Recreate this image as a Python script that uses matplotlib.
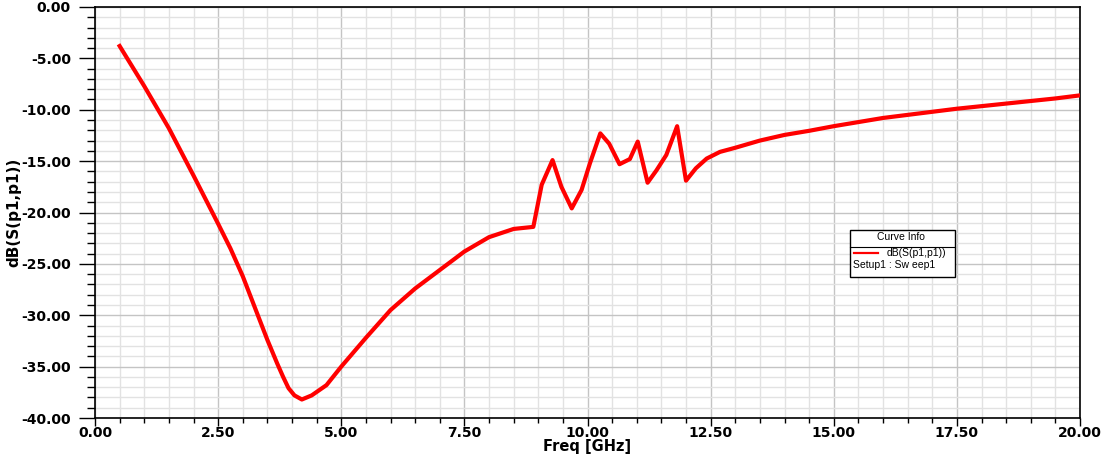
import numpy as np
import matplotlib.pyplot as plt
from matplotlib.ticker import MultipleLocator, FormatStrFormatter
from matplotlib.patches import Rectangle
from matplotlib.lines import Line2D

# S11 sweep
freq = [0.5, 1.0, 1.5, 2.0, 2.5, 2.75, 3.0, 3.25, 3.5, 3.7, 3.82, 3.93, 4.05,
        4.2, 4.4, 4.7, 5.0, 5.5, 6.0, 6.5, 7.0, 7.5, 8.0, 8.5, 8.9, 9.07,
        9.29, 9.47, 9.68, 9.88, 10.05, 10.26, 10.44, 10.65, 10.86, 11.02,
        11.22, 11.4, 11.6, 11.82, 12.0, 12.2, 12.42, 12.69, 13.0, 13.5, 14.0,
        14.5, 15.0, 16.0, 17.0, 17.5, 18.5, 19.5, 20.0]
s11 = [-3.8, -7.7, -11.8, -16.4, -21.1, -23.5, -26.2, -29.3, -32.4, -34.7,
       -36.0, -37.1, -37.8, -38.2, -37.8, -36.8, -35.0, -32.2, -29.5, -27.4,
       -25.6, -23.8, -22.4, -21.6, -21.4, -17.3, -14.9, -17.5, -19.6, -17.8,
       -15.2, -12.3, -13.3, -15.3, -14.8, -13.1, -17.1, -15.9, -14.4, -11.6,
       -16.9, -15.7, -14.75, -14.1, -13.7, -13.0, -12.45, -12.05, -11.6,
       -10.8, -10.2, -9.9, -9.4, -8.9, -8.6]
curve_name = 'dB(S(p1,p1))'
sweep_name = 'Setup1 : Sw eep1'

fig = plt.figure(figsize=(11.11, 4.54), dpi=100)
ax = fig.add_axes([95/1111, 1-418/454, 985/1111, 411/454])

ax.plot(freq, s11, color='#ff0000', lw=3.0, solid_joinstyle='round', zorder=3)

ax.set_xlim(0, 20)
ax.set_ylim(-40, 0)
ax.xaxis.set_major_locator(MultipleLocator(2.5))
ax.xaxis.set_minor_locator(MultipleLocator(0.5))
ax.yaxis.set_major_locator(MultipleLocator(5))
ax.yaxis.set_minor_locator(MultipleLocator(1))
ax.xaxis.set_major_formatter(FormatStrFormatter('%.2f'))
ax.yaxis.set_major_formatter(FormatStrFormatter('%.2f'))

ax.grid(which='major', color='#c4c4c4', lw=1.0, zorder=1)
ax.grid(which='minor', color='#e2e2e2', lw=1.0, zorder=0)
ax.set_axisbelow(True)

for s in ax.spines.values():
    s.set_color('black')
    s.set_linewidth(1.2)

ax.tick_params(axis='y', which='major', length=11.5, width=1, pad=5.8)
ax.tick_params(axis='y', which='minor', length=5.8, width=1)
ax.tick_params(axis='x', which='major', length=5.8, width=1, pad=0.3)
ax.tick_params(axis='x', which='minor', length=3.6, width=1)
for label in ax.get_xticklabels() + ax.get_yticklabels():
    label.set_fontsize(10)
    label.set_fontweight('bold')
    label.set_family('DejaVu Sans')

ax.set_xlabel('Freq [GHz]', fontsize=10.5, fontweight='bold')
ax.set_ylabel('dB(S(p1,p1))', fontsize=11, fontweight='bold')
ax.xaxis.set_label_coords(0.5, (418 - 439) / 411)
ax.yaxis.set_label_coords((21 - 95) / 985, 0.5)

# Curve Info box
W, H = 1111, 454
def fx(px):
    return px / W
def fy(py):
    return 1 - py / H

fig.patches.append(Rectangle((fx(850), fy(277)), fx(105), 47/H, transform=fig.transFigure,
                             facecolor='white', edgecolor='black', lw=1.0, zorder=5))
fig.lines.append(Line2D([fx(850), fx(955)], [fy(247), fy(247)], transform=fig.transFigure,
                        color='black', lw=0.8, zorder=6))
fig.lines.append(Line2D([fx(854), fx(878)], [fy(253.5), fy(253.5)], transform=fig.transFigure,
                        color='#ff0000', lw=1.6, zorder=6))
fig.text(fx(901), fy(237.5), 'Curve Info', ha='center', va='center', fontsize=7.5,
         family='Liberation Sans', zorder=7)
fig.text(fx(887), fy(253.5), curve_name, ha='left', va='center', fontsize=7.5,
         family='Liberation Sans', zorder=7)
fig.text(fx(853), fy(265), sweep_name, ha='left', va='center', fontsize=7.5,
         family='Liberation Sans', zorder=7)

fig.savefig('out.png', dpi=100)
